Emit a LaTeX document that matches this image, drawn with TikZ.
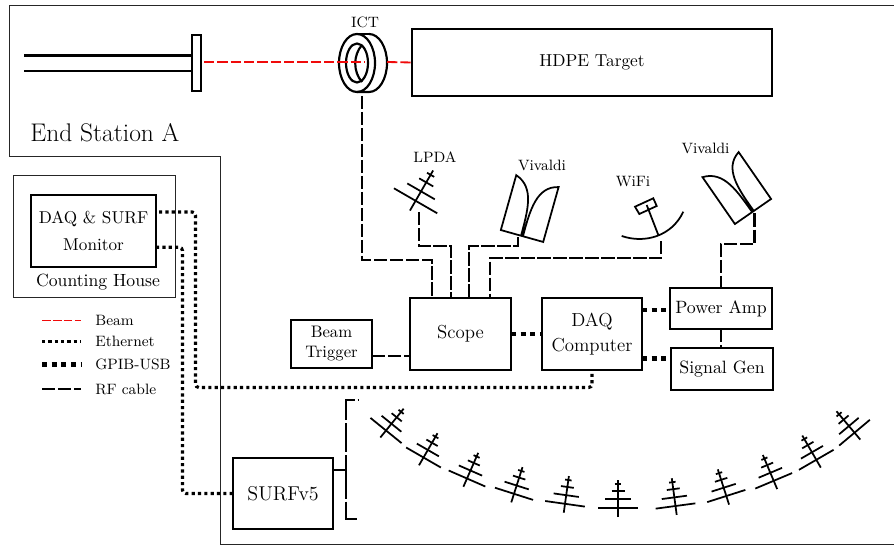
\documentclass[tikz,border=0pt]{standalone}
\usepackage{xcolor}
\usepackage{tikz}
\usetikzlibrary{arrows.meta, positioning, calc}
\definecolor{beamred}{RGB}{240, 10, 10}

\tikzset{
  box/.style 2 args={draw, line width=1.4pt, inner sep=0pt, outer sep=0pt, align=center, minimum width=#1*0.6pt, minimum height=#2*0.6pt},
  thinwall/.style={draw=black!85, line width=0.6pt},
  wire/.style={line width=1.3pt},
  antline/.style={line width=1.05pt},
  beam/.style={draw=beamred, line width=1.1pt, dash pattern=on 6.2pt off 1.8pt},
  ethernet/.style={line width=1.9pt, dash pattern=on 1.9pt off 1.9pt},
  gpib/.style={line width=2.7pt, dash pattern=on 2.9pt off 2.9pt},
  rfcable/.style={line width=1.3pt, dash pattern=on 8pt off 1.6pt},
  rfbus/.style={line width=1.3pt, dash pattern=on 17.1pt off 1.8pt},
  caption/.style={inner sep=0pt, font=\small},
  bigtext/.style={font=\fontsize{11.3}{13.6}\selectfont},
  midtext/.style={font=\fontsize{10.7}{13}\selectfont}
}

% one log periodic antenna: #1 x, #2 y, #3 rotation, #4 size
\newcommand{\lpda}[4]{
  \begin{scope}[shift={(#1,#2)}, rotate=#3, scale=#4]
    \draw[antline] (0,9) -- (0,-28);
    \draw[antline] (-20,0) -- (20,0);
    \draw[antline] (-12.7,-8.7) -- (12.7,-8.7);
    \draw[antline] (-6.5,-17) -- (6.5,-17);
    \draw[antline] (-3.3,-24) -- (3.3,-24);
  \end{scope}
}

% one Vivaldi horn: #1 x, #2 y, #3 rotation
\newcommand{\vivaldi}[3]{
  \begin{scope}[shift={(#1,#2)}, rotate=#3]
    \draw[antline] (-1,0) .. controls (-1.5,-25) and (-0.5,-50) .. (-22,-57) -- (-22,0) -- (22,0) -- (22,-57) .. controls (1,-52) and (0.5,-28) .. (1,0);
  \end{scope}
}

\begin{document}
\begin{tikzpicture}[x=0.6pt, y=-0.6pt]
  \useasboundingbox (0,0) rectangle (894,545);

  % Walls
  \draw[thinwall] (894,6) -- (9,6) -- (9,157) -- (220,157) -- (220,544.5) -- (894,544.5);
  \draw[thinwall] (13,176) rectangle (175,297);

  % Boxes
  \node[box={360}{67}, font=\fontsize{10.4}{12.5}\selectfont] (target) at (592,62.5) {HDPE Target};
  \node[box={101}{72}, bigtext] (scope) at (460.5,334) {Scope};
  \node[box={100}{72}, bigtext] (daq) at (592,334) {DAQ\\[1pt]Computer};
  \node[box={81}{48}] (trigger) at (331.5,344) {Beam\\Trigger};
  \node[box={102}{41}, midtext] (amp) at (721,308.5) {Power Amp};
  \node[box={102}{42}, midtext] (siggen) at (722,369) {Signal Gen};
  \node[box={100}{71}, font=\large] (surf) at (283,493.5) {SURFv5};
  \node[box={125}{72}, font=\fontsize{10.3}{12.4}\selectfont] (monitor) at (93.5,231) {DAQ \& SURF\\[4pt]Monitor};
  \node[box={9.5}{55.5}, fill=white] (flange) at (196.5,63) {};

  % Labels
  \node[inner sep=0pt, anchor=west, font=\fontsize{15.3}{18}\selectfont] (esa) at (30,133) {End Station A};
  \node[inner sep=0pt, font=\fontsize{10.6}{13}\selectfont] (house) at (98,282) {Counting House};
  \node[caption] (ictlabel) at (365,22) {ICT};
  \node[caption] (lpdalabel) at (435,157) {LPDA};
  \node[caption] (vivlabela) at (542,165) {Vivaldi};
  \node[caption] (wifilabel) at (633,182) {WiFi};
  \node[caption] (vivlabelb) at (705.5,148) {Vivaldi};

  % Beam pipe
  \coordinate (pipea) at (24,55.5);
  \coordinate (pipeb) at (24,71);
  \draw[wire] (pipea) -- (pipea -| flange.west);
  \draw[wire] (pipeb) -- (pipeb -| flange.west);

  % ICT
  \coordinate (ict) at (357,63);
  \coordinate (ictfoot) at (362,96);
  \draw[wire] (369,34) arc[start angle=-90, end angle=90, x radius=18, y radius=29] -- (357,92);
  \draw[wire] (357,34) -- (369,34);
  \draw[wire] (ict) ellipse [x radius=18, y radius=29];
  \draw[wire] (ict) ellipse [x radius=11, y radius=19.5];
  \draw[wire] (362,45) .. controls (353,55) and (353,72) .. (362,82);

  % Beam
  \coordinate (beama) at (204,62);
  \coordinate (beamb) at (365,62);
  \coordinate (beamc) at (387,62);
  \draw[beam] (beama) -- (beamb);
  \draw[beam] (beamc) -- (target.west);

  % Antennas
  \lpda{415.6}{200.8}{-30}{1.25}
  \vivaldi{522}{236}{-15.7}
  \vivaldi{753}{211.5}{34.7}
  \foreach \ax/\ay/\arot in {386/430.5/-39, 423.5/457.5/-30, 467/478.5/-23.6, 514/493.8/-17.7, 565/503.8/-8, 618/508/0, 675.5/506/7.6, 726.3/496/17.7, 773.7/480.8/22.8, 816.3/459.8/30, 854.5/432.7/40}
    \lpda{\ax}{\ay}{\arot}{1};

  % WiFi dish
  \draw[antline] (621.7,236) .. controls (645,244) and (672,236) .. (683.3,211.7);
  \draw[antline] (658.3,235) -- (646.7,205);
  \draw[antline] (635,206.7) -- (653.3,198.3) -- (656.7,206) -- (639.3,214) -- cycle;

  % RF cables
  \coordinate (lpdafoot) at (419,212);
  \coordinate (vivfoota) at (518,237);
  \coordinate (wififoot) at (661.3,241);
  \coordinate (vivfootb) at (754.5,213.5);
  \coordinate (scopea) at ($(scope.north west)+(21.7,0)$);
  \coordinate (scopeb) at ($(scope.north west)+(40.7,0)$);
  \coordinate (scopec) at ($(scope.north west)+(59.3,0)$);
  \coordinate (scoped) at ($(scope.north west)+(80,0)$);
  \draw[rfcable] (ictfoot) -- ++(0,164) -| (scopea);
  \draw[rfcable] (lpdafoot) -- ++(0,33.7) -| (scopeb);
  \draw[rfcable] (vivfoota) -- ++(0,8.7) -| (scopec);
  \draw[rfcable] (wififoot) -- ++(0,17.3) -| (scoped);
  \draw[rfcable] (vivfootb) -- ++(0,30.5) -| (amp.north);
  \draw[rfcable] (amp.south) -- (amp.south |- siggen.north);
  \draw[rfcable] (trigger.east |- 372,356) -- (scope.west |- 372,356);

  % SURF bus
  \coordinate (busmid) at (346,470);
  \coordinate (busa) at (346,400);
  \coordinate (busb) at (346,519);
  \coordinate (bustopend) at (359,400);
  \coordinate (busbotend) at (359,519);
  \draw[rfbus] (surf.east |- busmid) -- (busmid) -- (busa) -- (bustopend);
  \draw[rfbus] (busmid) -- (busb) -- (busbotend);

  % GPIB-USB
  \draw[gpib] (scope.east) -- (daq.west |- scope.east);
  \draw[gpib] (daq.east |- amp.west) ++(0,1.5) -- (amp.west |- 670,310);
  \draw[gpib] (daq.east |- 642,358.5) -- (siggen.west |- 642,358.5);

  % Ethernet
  \coordinate (monup) at ($(monitor.east)+(3,-19)$);
  \coordinate (mondown) at ($(monitor.east)+(0,16.3)$);
  \draw[ethernet, rounded corners=2pt] (monup) -- ++(36.5,0) -- ++(0,175.5) -| (daq.south);
  \draw[ethernet, rounded corners=2pt] (mondown) -- ++(26.5,0) |- (surf.west);

  % Legend
  \coordinate (keya) at (42,320.7);
  \coordinate (keyb) at (42,341.7);
  \coordinate (keyc) at (42,364.3);
  \coordinate (keyd) at (42,389);
  \node[caption, anchor=base west] (beamkey) at (95,325) {Beam};
  \node[caption, anchor=base west] (etherkey) at (95,346) {Ethernet};
  \node[caption, anchor=base west] (gpibkey) at (95,369.5) {GPIB-USB};
  \node[caption, anchor=base west] (rfkey) at (95,394) {RF cable};
  \draw[draw=beamred, line width=0.9pt, dash pattern=on 5.2pt off 1.3pt] (keya) -- ++(39,0);
  \draw[line width=1.5pt, dash pattern=on 1.9pt off 1.9pt] (keyb) -- ++(39,0);
  \draw[gpib] (keyc) -- ++(39,0);
  \draw[rfcable] (keyd) -- ++(39,0);
\end{tikzpicture}
\end{document}
